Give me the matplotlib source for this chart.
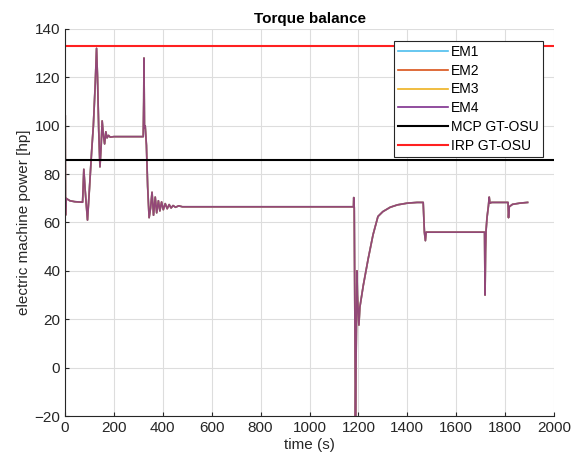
import matplotlib
matplotlib.use('Agg')
import matplotlib.pyplot as plt
import numpy as np

plt.rcParams['font.family'] = ['Liberation Sans', 'DejaVu Sans']

# tempo (s) e potenza macchina elettrica (hp)
t = [1, 2, 4, 20, 40, 70, 72, 77, 82, 92, 100, 109, 116, 124, 129, 133, 138,
     143, 148, 152, 157, 162, 167, 172, 178, 185, 200, 320, 322, 323, 325,
     328, 333, 338, 344, 350, 356, 362, 369, 375, 382, 388, 395, 402, 410,
     418, 426, 434, 442, 452, 465, 480, 1180, 1181, 1183, 1188, 1192, 1194,
     1196, 1202, 1206, 1220, 1240, 1260, 1280, 1300, 1330, 1360, 1400, 1440,
     1465, 1470, 1474, 1477, 1716, 1718, 1720, 1722, 1726, 1732, 1735, 1738,
     1745, 1812, 1814, 1817, 1830, 1860, 1892]
em = [104, 63, 70, 69, 68.6, 68.4, 68.4, 82, 74, 61, 74, 89.5, 100, 118, 132,
      120, 98, 83, 92, 102, 96, 92.5, 97.5, 95, 96, 95.3, 95.5, 95.5, 110, 128,
      99, 100, 92, 75, 62, 66, 72.5, 63, 70.5, 64, 69, 64.8, 68.5, 65.3, 67.8,
      65.7, 67.4, 66, 67, 66.3, 66.9, 66.5, 66.5, 70.3, 66, -22, 18, 40, 30,
      17.6, 25, 34, 45, 55, 62.5, 64.5, 66.3, 67.3, 68, 68.3, 68.3, 56, 52.5,
      56, 56, 30, 48, 56.5, 62, 67, 70.5, 68, 68.3, 68.3, 62, 66.5, 67.5, 68,
      68.3]
em1 = em
em2 = em
em3 = em
em4 = em

t_lim = [0, 2000]
mcp = [85.8, 85.8]
irp = [133, 133]

fig = plt.figure(figsize=(5.8, 4.67), dpi=100)
ax = fig.add_axes([65/580, 1-416/467, 489/580, 387/467])

ax.plot(t, em1, color='#4DBEEE', lw=1.2, label='EM1')
ax.plot(t, em2, color='#D95319', lw=1.2, alpha=0.7, label='EM2')
ax.plot(t, em3, color='#EDB120', lw=1.2, alpha=0.5, label='EM3')
ax.plot(t, em4, color='#7E2F8E', lw=1.2, alpha=0.75, label='EM4')
ax.plot(t_lim, mcp, color='black', lw=1.5, label='MCP GT-OSU')
ax.plot(t_lim, irp, color='#FF2020', lw=1.5, label='IRP GT-OSU')

ax.set_xlim(0, 2000)
ax.set_ylim(-20, 140)
ax.set_xticks(np.arange(0, 2001, 200))
ax.set_yticks(np.arange(-20, 141, 20))
ax.grid(True, color='#dddddd', lw=0.8)
ax.set_axisbelow(True)
for s in ['top', 'right']:
    ax.spines[s].set_visible(False)
for s in ['left', 'bottom']:
    ax.spines[s].set_color('#262626')
ax.tick_params(labelsize=11, colors='#262626', direction='in', length=3)
ax.set_xlabel('time (s)', fontsize=11, color='#262626', labelpad=2)
ax.set_ylabel('electric machine power [hp]', fontsize=11, color='#262626', labelpad=2)
ax.set_title('Torque balance', fontsize=11, fontweight='bold', pad=4)

leg = ax.legend(loc='upper right', bbox_to_anchor=(0.977, 0.97), fontsize=10,
                fancybox=False, framealpha=1, edgecolor='#262626',
                handlelength=3.6, borderpad=0.3, labelspacing=0.35,
                handletextpad=0.2, borderaxespad=0)
leg.get_frame().set_linewidth(0.8)
for l in leg.get_lines():
    l.set_alpha(1)

fig.savefig('out.png', dpi=100)
